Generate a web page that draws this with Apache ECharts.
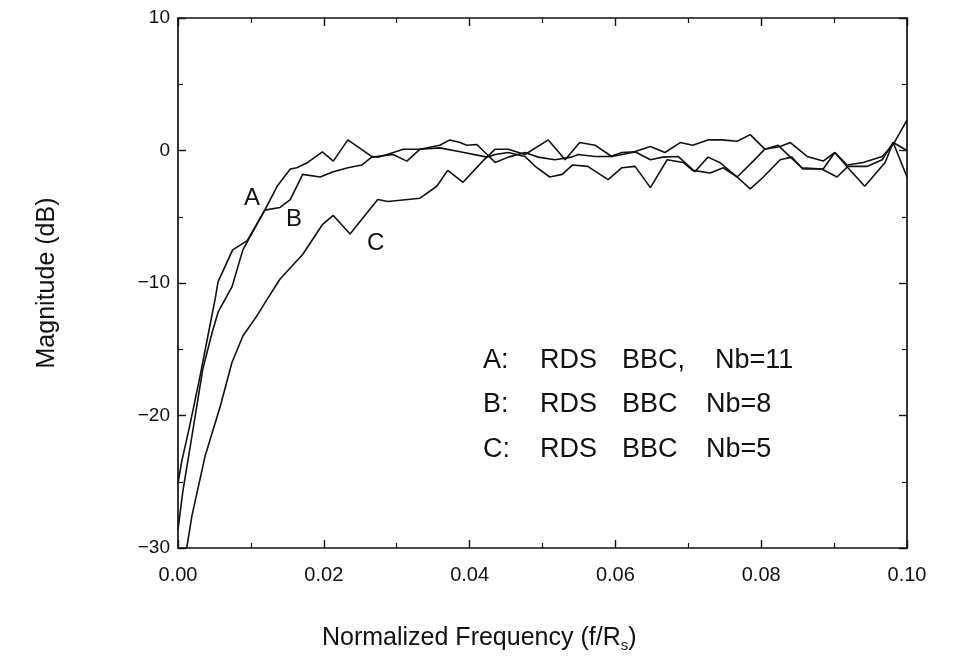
<!DOCTYPE html>
<html>
<head>
<meta charset="utf-8">
<script src="https://cdn.jsdelivr.net/npm/echarts@6/dist/echarts.min.js"></script>
<style>
  html, body { margin: 0; padding: 0; background: #fff; }
  #chart { width: 956px; height: 659px; }
</style>
</head>
<body>
<div id="chart"></div>
<script>
  // curve A: RDS BBC, Nb=11
  var aFreq = [0, 0.0005, 0.0016, 0.0030, 0.0041, 0.0051, 0.0055, 0.0075, 0.0095, 0.0119, 0.0136, 0.0154, 0.0163, 0.0178, 0.0198, 0.0213, 0.0233, 0.0267, 0.0295, 0.0314, 0.0332, 0.0359, 0.0387, 0.0424, 0.0435, 0.0453, 0.0476, 0.0490, 0.0510, 0.0527, 0.0541, 0.0562, 0.0590, 0.0609, 0.0627, 0.0648, 0.0671, 0.0693, 0.0706, 0.0730, 0.0748, 0.0767, 0.0785, 0.0803, 0.0826, 0.0842, 0.0857, 0.0885, 0.0901, 0.0919, 0.0942, 0.0970, 0.0981, 0.1]
  var aMag = [-25.1, -23.5, -20.8, -17.1, -14.0, -11.2, -9.9, -7.5, -6.8, -4.5, -2.7, -1.4, -1.3, -0.9, -0.1, -0.8, 0.8, -0.5, -0.3, -0.8, 0.1, 0.2, -0.1, -0.5, -0.3, -0.15, -0.45, -1.2, -2.0, -1.8, -1.1, -1.2, -2.2, -1.3, -1.2, -2.8, -0.7, -0.9, -1.5, -1.7, -1.3, -2.0, -2.9, -2.0, -0.7, -0.5, -1.4, -1.4, -0.15, -1.3, -2.7, -0.9, 0.6, -2.0]

  // curve B: RDS BBC Nb=8
  var bFreq = [0, 0.0007, 0.0019, 0.0034, 0.0047, 0.0055, 0.0074, 0.0089, 0.0095, 0.0119, 0.0140, 0.0154, 0.0171, 0.0195, 0.0213, 0.0233, 0.0252, 0.0267, 0.0274, 0.0287, 0.0309, 0.0332, 0.0359, 0.0373, 0.0387, 0.0396, 0.0410, 0.0424, 0.0435, 0.0453, 0.0476, 0.0494, 0.0517, 0.0540, 0.0549, 0.0572, 0.0593, 0.0609, 0.0627, 0.0648, 0.0665, 0.0686, 0.0709, 0.0727, 0.0743, 0.0767, 0.0789, 0.0805, 0.0823, 0.0840, 0.0856, 0.0883, 0.0904, 0.0919, 0.0945, 0.0966, 0.0981, 0.1]
  var bMag = [-28.6, -25.6, -21.6, -16.5, -13.7, -12.2, -10.3, -7.5, -6.9, -4.5, -4.3, -3.7, -1.8, -2.0, -1.6, -1.3, -1.1, -0.45, -0.5, -0.3, 0.1, 0.1, 0.4, 0.8, 0.6, 0.4, 0.45, -0.3, -0.9, -0.5, -0.15, -0.5, -0.7, -0.5, -0.3, -0.45, -0.45, -0.15, -0.1, -0.7, -0.5, -0.45, -1.6, -0.5, -0.9, -2.0, -0.8, 0.1, 0.4, -0.5, -1.3, -1.4, -2.0, -1.2, -1.2, -0.7, 0.6, 0]

  // curve C: RDS BBC Nb=5
  var cFreq = [0.0012, 0.0019, 0.0037, 0.0058, 0.0074, 0.0089, 0.0108, 0.0122, 0.0140, 0.0171, 0.0198, 0.0213, 0.0236, 0.0274, 0.0288, 0.0332, 0.0355, 0.0370, 0.0391, 0.0418, 0.0435, 0.0453, 0.0476, 0.0508, 0.0531, 0.0551, 0.0572, 0.0595, 0.0623, 0.0648, 0.0668, 0.0689, 0.0706, 0.0727, 0.0746, 0.0767, 0.0785, 0.0805, 0.0826, 0.0840, 0.0863, 0.0885, 0.0901, 0.0918, 0.0940, 0.0966, 0.0981, 0.1]
  var cMag = [-30.0, -27.6, -23.1, -19.3, -16.0, -14.0, -12.5, -11.25, -9.7, -7.85, -5.6, -4.9, -6.3, -3.7, -3.85, -3.6, -2.7, -1.5, -2.4, -0.8, 0.1, 0.1, -0.3, 0.8, -0.7, 0.6, 0.4, -0.45, -0.15, 0.3, -0.15, 0.6, 0.4, 0.8, 0.8, 0.7, 1.2, 0.1, 0.3, 0.6, -0.45, -0.8, -0.15, -1.1, -0.9, -0.45, 0.45, 2.3]

  // legend text, word by word
  var legendWords = [
    ['A:', 'RDS', 'BBC,', 'Nb=11'],
    ['B:', 'RDS', 'BBC', 'Nb=8'],
    ['C:', 'RDS', 'BBC', 'Nb=5']
  ]
  var curveNames = ['A', 'B', 'C']

  var font = 'Liberation Sans, Arial, sans-serif'
  var ink = '#111'

  function pairs(xs, ys) {
    return xs.map(function (x, i) { return [x, ys[i]] })
  }

  function lineSeries(name, xs, ys) {
    return {
      name: name,
      type: 'line',
      data: pairs(xs, ys),
      showSymbol: false,
      symbol: 'none',
      clip: true,
      animation: false,
      lineStyle: { color: ink, width: 1.6 }
    }
  }

  var ec = echarts.init(document.getElementById('chart'))

  var baseX = {
    type: 'value', min: 0, max: 0.1, interval: 0.02,
    axisLine: { show: true, onZero: false, lineStyle: { color: ink, width: 1.7 } },
    axisTick: { show: true, inside: true, length: 8, lineStyle: { color: ink, width: 1.4 } },
    minorTick: { show: true, splitNumber: 2, length: 5, lineStyle: { color: ink, width: 1.2 } },
    splitLine: { show: false }
  }
  var baseY = {
    type: 'value', min: -30, max: 10, interval: 10,
    axisLine: { show: true, onZero: false, lineStyle: { color: ink, width: 1.7 } },
    axisTick: { show: true, inside: true, length: 8, lineStyle: { color: ink, width: 1.4 } },
    minorTick: { show: true, splitNumber: 2, length: 5, lineStyle: { color: ink, width: 1.2 } },
    splitLine: { show: false }
  }

  var graphics = []
  var wordX = [[483, 540, 622, 715], [483, 540, 622, 706], [483, 540, 622, 706]]
  legendWords.forEach(function (words, i) {
    words.forEach(function (w, j) {
      graphics.push({
        type: 'text', left: wordX[i][j], top: 347 + i * 44.5,
        style: { text: w, font: '27px ' + font, fill: ink }
      })
    })
  })
  var labelPos = [[244, 186], [286, 207], [367, 231]]
  curveNames.forEach(function (n, i) {
    graphics.push({
      type: 'text', left: labelPos[i][0], top: labelPos[i][1],
      style: { text: n, font: '24px ' + font, fill: ink }
    })
  })
  // x axis title (sits left of the plot centre in the original)
  graphics.push({
    type: 'text', left: 322, top: 626,
    style: {
      text: 'Normalized Frequency (f/R{sub|s})',
      font: '25px ' + font, fill: ink,
      rich: { sub: { fontFamily: font, fontSize: 15, fill: ink, padding: [14, 0, 0, 0] } }
    }
  })

  ec.setOption({
    backgroundColor: '#fff',
    animation: false,
    grid: { left: 178, right: 49, top: 18, bottom: 111 },
    xAxis: [
      Object.assign({}, baseX, {
        position: 'bottom',
        axisLabel: {
          margin: 17, fontFamily: font, fontSize: 20, color: ink,
          formatter: function (v) { return v.toFixed(2) }
        }
      }),
      Object.assign({}, baseX, { position: 'top', axisLabel: { show: false } })
    ],
    yAxis: [
      Object.assign({}, baseY, {
        position: 'left',
        name: 'Magnitude (dB)',
        nameLocation: 'middle',
        nameGap: 118,
        nameRotate: 90,
        nameTextStyle: { fontFamily: font, fontSize: 25, color: ink },
        axisLabel: {
          margin: 8, fontFamily: font, fontSize: 19, color: ink,
          formatter: function (v) { return String(v).replace('-', '\u2212') }
        }
      }),
      Object.assign({}, baseY, { position: 'right', axisLabel: { show: false } })
    ],
    series: [
      lineSeries('A', aFreq, aMag),
      lineSeries('B', bFreq, bMag),
      lineSeries('C', cFreq, cMag)
    ],
    graphic: graphics
  })
</script>
</body>
</html>
